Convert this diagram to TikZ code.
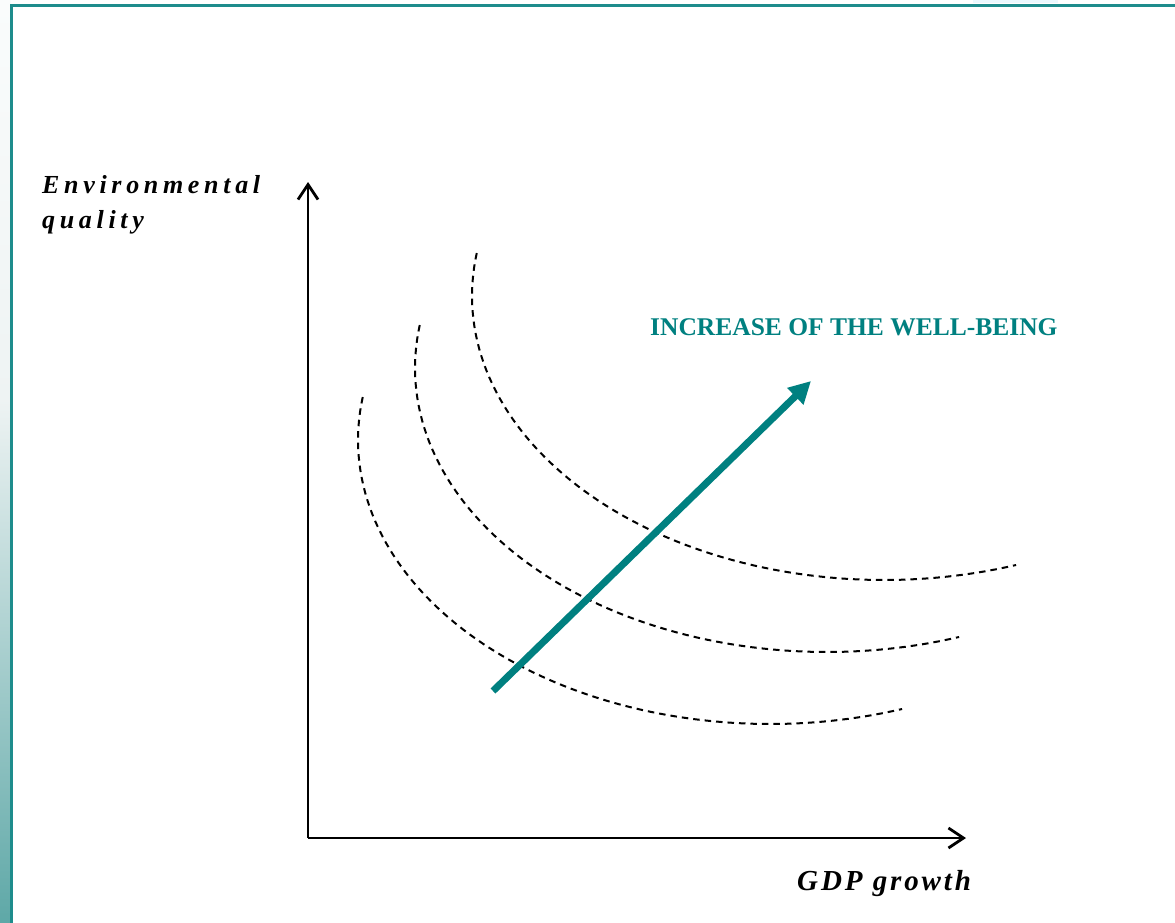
\documentclass[tikz,border=0pt]{standalone}
\usepackage{fontspec}
\setmainfont{Liberation Serif}
\newfontfamily\envfont[LetterSpace=18]{Liberation Serif}
\newfontfamily\gdpfont[LetterSpace=10]{Liberation Serif}
\usetikzlibrary{arrows.meta}
\definecolor{tealc}{HTML}{008080}
\definecolor{frame}{HTML}{1E8C8C}
\definecolor{stripA}{HTML}{FAFCFC}
\definecolor{stripB}{HTML}{EEF3F3}
\definecolor{stripC}{HTML}{5EA8A7}
\begin{document}
\begin{tikzpicture}[x=1pt,y=-1pt,
  axis/.style={line width=2.8pt, -{Straight Barb[length=15pt,width=20pt,line width=2.8pt]}},
  curve/.style={line width=2pt, dash pattern=on 6.5pt off 5pt},
  growth/.style={line width=7pt, tealc, -{Triangle[length=22pt,width=22pt]}},
  lab/.style={inner sep=0pt, anchor=base west},
  envlab/.style={lab, font={\envfont\bfseries\itshape\fontsize{26}{30}\selectfont}},
]
\useasboundingbox (0,0) rectangle (1175,923);
% background strip and frame
\shade[top color=stripA, bottom color=stripB] (0,0) rectangle (11,400);
\shade[top color=stripB, bottom color=stripC] (0,400) rectangle (11,923);
\fill[stripA] (0,0) rectangle (11,4);
\fill[cyan!8] (973,0) rectangle (1058,3);
\draw[frame, line width=3pt] (1175,5.2) -- (11.8,5.2) -- (11.8,923);
% axes
\coordinate (O) at (308,838);
\coordinate (Ytip) at (308,182);
\coordinate (Xtip) at (966,838);
\draw[axis] (O) -- (Ytip);
\draw[axis] (O) -- (Xtip);
% indifference curves (three translated elliptic arcs)
\foreach \s in {0,1,2}{
  \begin{scope}[shift={(57*\s,-72*\s)}]
    \draw[curve] plot[domain=-8.7:108.7, samples=80] ({770-412*cos(\x)},{440+284*sin(\x)});
  \end{scope}
}
% growth arrow
\coordinate (A1) at (493,691);
\coordinate (A2) at (811,381);
\draw[growth] (A1) -- (A2);
% labels
\node[envlab] (ylab1) at (42,193) {Environmental};
\node[envlab] (ylab2) at (42,228) {quality};
\node[lab, font={\gdpfont\bfseries\itshape\fontsize{29}{34}\selectfont}] (xlab) at (797,890) {GDP growth};
\node[lab, tealc, font={\bfseries\fontsize{25.5}{30}\selectfont}] (title) at (650,335) {INCREASE OF THE WELL-BEING};
\end{tikzpicture}
\end{document}
